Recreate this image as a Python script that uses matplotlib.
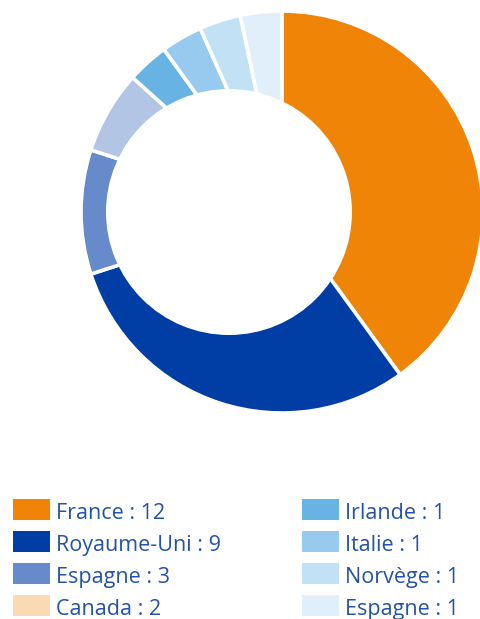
import matplotlib.pyplot as plt
from matplotlib.patches import Circle, Rectangle

# pays et nombre de projets
pays = ["France", "Royaume-Uni", "Espagne", "Canada",
        "Irlande", "Italie", "Norvège", "Espagne"]
valeurs = [12, 9, 3, 2, 1, 1, 1, 1]

couleurs = ["#F08407", "#003DA5", "#678ACB", "#B3C5E5",
            "#67B3E4", "#98C9EE", "#C3E1F5", "#E1EFFB"]
couleurs_legende = ["#F08407", "#003DA5", "#678ACB", "#FAD9B5",
                    "#67B3E4", "#98C9EE", "#C3E1F5", "#E1EFFB"]

bleu_texte = "#2452A6"

fig = plt.figure(figsize=(4.8, 6.19), dpi=100)
ax = fig.add_axes([0, 0, 1, 1])

# anneau : secteurs depuis le haut dans le sens horaire
ax.pie(valeurs, colors=couleurs, center=(282, 407), radius=201,
       startangle=90, counterclock=False,
       wedgeprops=dict(edgecolor="white", linewidth=2.6))

# trou blanc decale vers la gauche
ax.add_patch(Circle((229, 407), 123, facecolor="white", edgecolor="none", zorder=5))

# legende sur deux colonnes
for i, (nom, v) in enumerate(zip(pays, valeurs)):
    col = i // 4
    ligne = i % 4
    x = 13 + col * 289
    y = 619 - 499 - ligne * 32
    ax.add_patch(Rectangle((x, y - 21), 37, 21, facecolor=couleurs_legende[i],
                           edgecolor="none"))
    ax.text(x + 43, y - 14.5, f"{nom} : {v}", color=bleu_texte, fontsize=15.5,
            family="Open Sans", va="center", ha="left")

ax.set_xlim(0, 480)
ax.set_ylim(0, 619)
ax.set_aspect("auto")
ax.axis("off")

fig.savefig("out.png", dpi=100)
